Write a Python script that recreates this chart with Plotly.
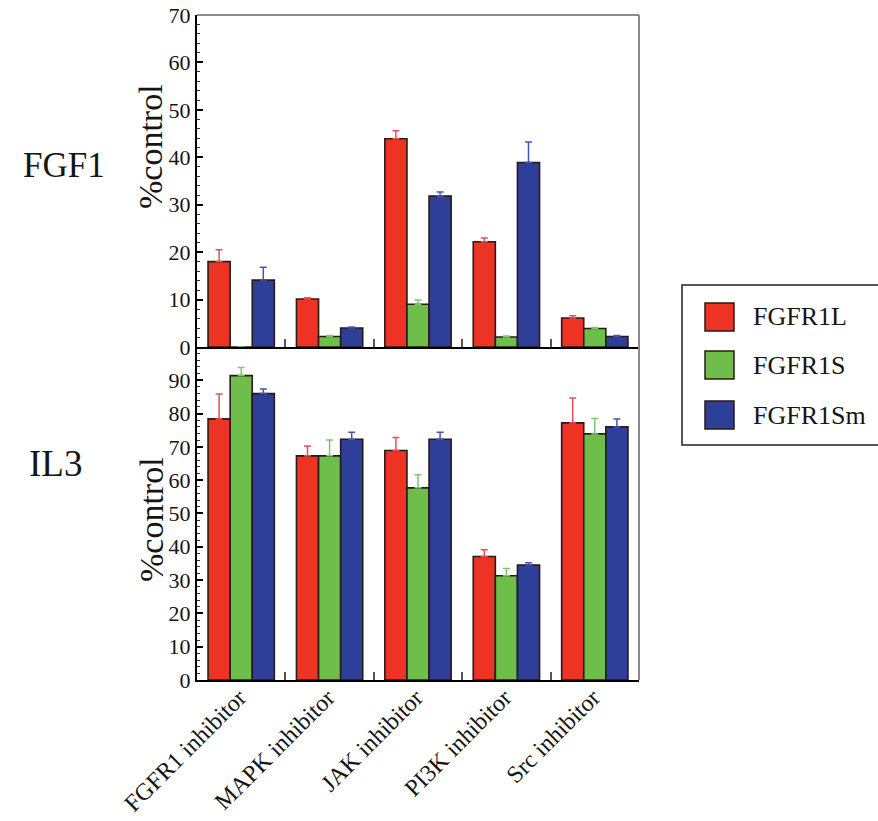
import plotly.graph_objects as go

# Inhibitor treatments along the x axis
categories = ["FGFR1 inhibitor", "MAPK inhibitor", "JAK inhibitor", "PI3K inhibitor", "Src inhibitor"]
series = ["FGFR1L", "FGFR1S", "FGFR1Sm"]

# FGF1 stimulation: mean %control and upper error
fgf1_L = [18.0, 10.1, 43.9, 22.2, 6.1]
fgf1_L_err = [2.5, 0.3, 1.7, 0.8, 0.5]
fgf1_S = [0.0, 2.2, 9.0, 2.1, 3.9]
fgf1_S_err = [0.0, 0.2, 0.9, 0.2, 0.2]
fgf1_Sm = [14.1, 4.0, 31.8, 38.9, 2.2]
fgf1_Sm_err = [2.7, 0.2, 0.9, 4.3, 0.2]

# IL3 stimulation: mean %control and upper error
il3_L = [78.4, 67.3, 68.9, 37.1, 77.2]
il3_L_err = [7.5, 3.0, 3.9, 2.0, 7.5]
il3_S = [91.4, 67.3, 57.7, 31.3, 73.9]
il3_S_err = [2.4, 4.8, 3.9, 2.2, 4.6]
il3_Sm = [86.0, 72.3, 72.3, 34.5, 76.0]
il3_Sm_err = [1.4, 2.1, 2.1, 0.7, 2.4]

bar_colors = ["#EC3324", "#6DBE4B", "#2D3F98"]
err_colors = ["#E5505A", "#7CC86A", "#4656AE"]
edge_color = "#2a1a18"

serif = "'Liberation Serif', 'DejaVu Serif', 'Times New Roman', serif"
ink = "#151515"

fig = go.Figure()

top_sets = [(fgf1_L, fgf1_L_err), (fgf1_S, fgf1_S_err), (fgf1_Sm, fgf1_Sm_err)]
bottom_sets = [(il3_L, il3_L_err), (il3_S, il3_S_err), (il3_Sm, il3_Sm_err)]

for i, name in enumerate(series):
    for (vals, errs), xa, ya in ((top_sets[i], "x2", "y2"), (bottom_sets[i], "x", "y")):
        fig.add_trace(go.Bar(
            x=categories, y=vals, name=name, xaxis=xa, yaxis=ya,
            offsetgroup=str(i), showlegend=False,
            marker=dict(color=bar_colors[i], line=dict(color=edge_color, width=1.6)),
            error_y=dict(type="data", symmetric=False, array=errs,
                         arrayminus=[0] * len(errs), color=err_colors[i],
                         thickness=1.5, width=3.5),
        ))

split = 0.5008

yaxis_common = dict(
    showline=True, linecolor="black", linewidth=2, automargin=False,
    ticks="inside", ticklen=6, tickwidth=1.5, tickcolor="black",
    minor=dict(ticks="inside", ticklen=3, dtick=2, tickcolor="#333", tickwidth=1),
    showgrid=False, zeroline=False,
    tickfont=dict(family=serif, size=22, color=ink),
)

xaxis_common = dict(
    showline=True, linecolor="black", linewidth=2, automargin=False,
    tickson="boundaries", ticks="inside", ticklen=8, tickwidth=1.5, tickcolor="#555",
    showgrid=False, zeroline=False,
)

fig.update_layout(
    width=878, height=821,
    margin=dict(l=197, r=239, t=15, b=141, autoexpand=False),
    paper_bgcolor="white", plot_bgcolor="white",
    font=dict(family=serif, color=ink),
    barmode="group", bargap=0.25, bargroupgap=0,
    showlegend=False,
    xaxis=dict(**xaxis_common, anchor="y", domain=[0, 1],
               tickangle=-45, ticklabelstandoff=-8, ticklabelshift=-2,
               tickfont=dict(family=serif, size=24, color=ink)),
    xaxis2=dict(**xaxis_common, anchor="y2", matches="x", showticklabels=False),
    yaxis=dict(**yaxis_common, domain=[0, split], range=[0, 100],
               tickvals=[0, 10, 20, 30, 40, 50, 60, 70, 80, 90], anchor="x"),
    yaxis2=dict(**yaxis_common, domain=[split, 1], range=[0, 70],
                tickvals=[0, 10, 20, 30, 40, 50, 60, 70], anchor="x2"),
)

# Pixel helpers for placing decorations in paper coordinates
px_w, px_h = 442.0, 665.0
def px_x(px):
    return (px - 197) / px_w
def px_y(py):
    return (680 - py) / px_h

# Gray frame on the top and right sides of both panels
frame = dict(color="#8a8a8a", width=2)
fig.add_shape(type="line", xref="paper", yref="paper", x0=0, x1=1, y0=1, y1=1, line=frame)
fig.add_shape(type="line", xref="paper", yref="paper", x0=1, x1=1, y0=0, y1=1, line=frame)

# Y axis titles
for cy in (147, 520):
    fig.add_annotation(text="%control", xref="paper", yref="paper",
                       x=px_x(151), y=px_y(cy), xanchor="center", yanchor="middle",
                       textangle=-90, showarrow=False,
                       font=dict(family=serif, size=34, color=ink))

# Panel labels for the stimulating ligand
fig.add_annotation(text="FGF1", xref="paper", yref="paper", x=px_x(64), y=px_y(165),
                   xanchor="center", yanchor="middle",
                   showarrow=False, font=dict(family=serif, size=35, color=ink))
fig.add_annotation(text="IL3", xref="paper", yref="paper", x=px_x(55), y=px_y(463),
                   xanchor="center", yanchor="middle",
                   showarrow=False, font=dict(family=serif, size=37, color=ink))

# Legend box drawn with swatches and labels
fig.add_shape(type="rect", xref="paper", yref="paper",
              x0=px_x(682), x1=px_x(900), y0=px_y(445), y1=px_y(285),
              line=dict(color="#222", width=1.5), fillcolor="white")
item_y = [317, 365, 415]
for i, name in enumerate(series):
    cy = item_y[i]
    fig.add_shape(type="rect", xref="paper", yref="paper",
                  x0=px_x(705), x1=px_x(734), y0=px_y(cy + 14), y1=px_y(cy - 14),
                  line=dict(color=edge_color, width=1.5), fillcolor=bar_colors[i])
    fig.add_annotation(text=name, xref="paper", yref="paper",
                       x=px_x(751), y=px_y(cy), xanchor="left", yanchor="middle",
                       showarrow=False, font=dict(family=serif, size=26, color=ink))

fig.write_html("out.html")
